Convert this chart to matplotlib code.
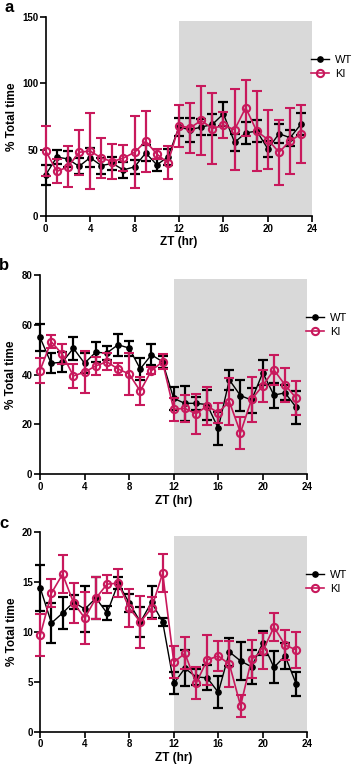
import matplotlib
matplotlib.use("Agg")
import matplotlib.pyplot as plt
from matplotlib.lines import Line2D

plt.rcParams['font.family'] = ['Liberation Sans', 'DejaVu Sans']

zt = list(range(24))

# panel a
a_wt = [31, 44.4, 43, 37.4, 44, 38, 39.6, 34.8, 37, 47.5, 38.6, 44.4,
        67, 65, 67, 69, 77, 55.5, 62.6, 64, 50.5, 62, 59, 69.4]
a_wt_err = [7.5, 5, 6, 6, 7, 6, 5, 6, 5, 6, 4.5, 6,
            7, 9, 6, 8, 9, 6.5, 8, 8, 6, 7, 6, 8]
a_ki = [49, 33.6, 37, 48, 49, 43.7, 41, 43.7, 48, 56.3, 46.7, 40,
        68, 66.4, 72, 65.9, 68.4, 65, 81.6, 63.9, 57.6, 48, 56.6, 61.8]
a_ki_err = [19, 9, 15.5, 17, 28.5, 14.7, 13, 10, 27, 23, 4, 12.5,
            16, 19, 26, 26.5, 10, 30.5, 21, 30, 22.5, 24.6, 25, 22]

# panel b
b_wt = [55, 44.6, 45, 50.6, 44.6, 49, 48.7, 52, 50.7, 42.3, 48, 45.2,
        30.5, 28.5, 28.5, 28, 18.5, 37.9, 31.6, 29.8, 40.8, 31.8, 32.7, 26.9]
b_wt_err = [5.5, 4, 4, 4.7, 4, 4, 2.7, 4.4, 3, 4.3, 4.2, 2.5,
            4.7, 7, 2.5, 6, 6.7, 4, 6.3, 5, 5, 5, 3, 6.7]
b_ki = [41.6, 53.3, 48.2, 39.5, 41, 43.5, 45.2, 42.3, 40.3, 33.4, 41.6, 45.2,
        26.1, 26.5, 24.3, 27.4, 24.8, 29.2, 16.7, 30.1, 35.6, 41.9, 35.9, 30.6]
b_ki_err = [5, 2.7, 4, 4.7, 8.4, 3.6, 3.5, 2.5, 8.4, 5.5, 1.5, 3,
            4.7, 5.4, 8, 7.7, 4, 9.4, 6.5, 9, 6.4, 6, 6.7, 6.7]

# panel c
c_wt = [14.4, 10.9, 11.9, 13, 12.3, 13.4, 11.9, 14.9, 12.9, 11, 13, 11,
        4.85, 6.36, 5.5, 5.4, 3.95, 8.0, 7.1, 6.5, 8.9, 6.45, 7.6, 4.8]
c_wt_err = [2.3, 2, 1.6, 0.7, 2.3, 2.1, 0.7, 0.6, 0.9, 1.5, 1.6, 0.4,
            1.1, 1.8, 0.8, 1.25, 1.6, 1.4, 1.9, 1.7, 1.2, 1.6, 1.3, 1.2]
c_ki = [9.7, 13.9, 15.8, 12.9, 11.4, 13.4, 14.8, 14.9, 12.4, 11, 12.4, 15.9,
        6.96, 7.86, 4.85, 7.2, 7.6, 6.76, 2.6, 7.3, 8.1, 10.5, 8.7, 8.2]
c_ki_err = [2.1, 1.4, 1.9, 2, 2.6, 2.1, 0.9, 1.4, 1.9, 2.6, 1.1, 1.9,
            1.6, 1.6, 1.6, 2.5, 1.5, 2.3, 1.1, 1.9, 1.8, 1.45, 1.5, 1.8]

panels = [
    ('a', a_wt, a_wt_err, a_ki, a_ki_err, 150, [0, 50, 100, 150]),
    ('b', b_wt, b_wt_err, b_ki, b_ki_err, 80, [0, 20, 40, 60, 80]),
    ('c', c_wt, c_wt_err, c_ki, c_ki_err, 20, [0, 5, 10, 15, 20]),
]

# axes boxes in figure fraction: left, bottom, width, height
boxes = [
    [0.1277, 0.7184, 0.7447, 0.2595],
    [0.1117, 0.3816, 0.7467, 0.2598],
    [0.1126, 0.0460, 0.7458, 0.2600],
]

KI_COL = '#c8195c'

fig = plt.figure(figsize=(3.58, 7.67), dpi=100)

for (letter, wt, wt_err, ki, ki_err, ymax, yticks), box in zip(panels, boxes):
    ax = fig.add_axes(box)

    # dark phase shading
    ax.axvspan(12, 24, ymin=0, ymax=0.98, facecolor='#d9d9d9', edgecolor='none', zorder=0)

    ax.errorbar(zt, wt, yerr=wt_err, color='black', marker='o', markersize=3.8,
                linewidth=1, elinewidth=1.6, capsize=3.5, capthick=1.6,
                clip_on=False, zorder=3)
    ax.errorbar(zt, ki, yerr=ki_err, color=KI_COL, marker='o', markersize=5.2,
                markerfacecolor='none', markeredgewidth=1.5,
                linewidth=1.2, elinewidth=1.6, capsize=3.5, capthick=1.6,
                clip_on=False, zorder=4)

    ax.set_xlim(0, 24)
    ax.set_ylim(0, ymax)
    ax.set_xticks(range(0, 25, 4))
    ax.set_yticks(yticks)
    for s in ['top', 'right']:
        ax.spines[s].set_visible(False)
    for s in ['left', 'bottom']:
        ax.spines[s].set_linewidth(1.2)
    ax.tick_params(width=1.2, length=4, labelsize=7, pad=1.5)
    for lab in ax.get_xticklabels() + ax.get_yticklabels():
        lab.set_fontweight('bold')

    ax.set_xlabel('ZT (hr)', fontsize=8.5, fontweight='bold', labelpad=2)
    ax.set_ylabel('% Total time', fontsize=8.5, fontweight='bold', labelpad=3)

    handles = [
        Line2D([], [], color='black', marker='o', markersize=3.8, linewidth=1),
        Line2D([], [], color=KI_COL, marker='o', markersize=5.2,
               markerfacecolor='none', markeredgewidth=1.5, linewidth=1.2),
    ]
    ax.legend(handles, ['WT', 'KI'], loc='center left', bbox_to_anchor=(0.98, 0.75),
              frameon=False, fontsize=8, handlelength=1.6, handletextpad=0.5,
              labelspacing=0.35, borderaxespad=0)

    fig.text(box[0] - 0.115, box[1] + box[3] + 0.012, letter,
             fontsize=12, fontweight='bold', va='center', ha='left')

fig.savefig('out.png', dpi=100)
